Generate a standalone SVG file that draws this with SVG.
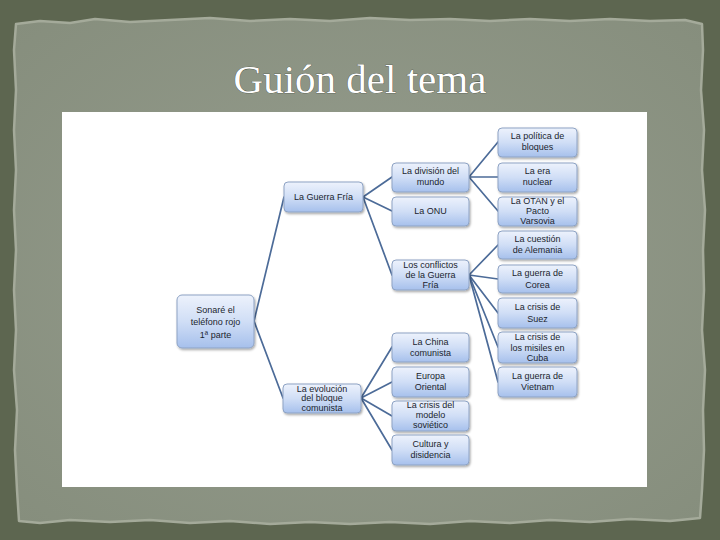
<svg xmlns="http://www.w3.org/2000/svg" width="720" height="540" viewBox="0 0 720 540">
<defs>
<linearGradient id="nodeFill" x1="0" y1="0" x2="0" y2="1">
<stop offset="0" stop-color="#edf2fc"/>
<stop offset="0.5" stop-color="#d0def6"/>
<stop offset="1" stop-color="#a6c0ec"/>
</linearGradient>
<radialGradient id="paper" cx="0.5" cy="0.5" r="0.7">
<stop offset="0" stop-color="#969d8e"/>
<stop offset="1" stop-color="#868e7d"/>
</radialGradient>
<filter id="shadow" x="-10%" y="-10%" width="130%" height="140%">
<feDropShadow dx="1" dy="1.5" stdDeviation="1" flood-color="#000" flood-opacity="0.35"/>
</filter>
<style>
.node rect{fill:url(#nodeFill);stroke:#8ea3c4;stroke-width:1;filter:url(#shadow)}
.node text{font-family:"Liberation Sans",Arial,sans-serif;font-size:9px;fill:#1b1f2e;text-anchor:middle}
#connectors line{stroke:#4c6b98;stroke-width:1.7;stroke-linecap:round}
.title{font-family:"Liberation Serif","DejaVu Serif",serif;font-size:41px;fill:#ffffff;stroke:#3a4035;stroke-width:0.6;paint-order:stroke;text-anchor:middle}
</style>
</defs>
<rect x="0" y="0" width="720" height="540" fill="#5d6650"/>
<path d="M16,24 L40,21 L70,23 L95,19 L130,22 L170,20 L210,18 L250,21 L290,19 L330,21 L370,18 L410,20 L450,19 L490,21 L530,19 L570,21 L610,19 L650,21 L685,20 L702,24 L703,50 L701,90 L704,130 L702,170 L705,210 L703,250 L704,290 L702,330 L705,370 L703,410 L704,450 L702,490 L700,518 L670,521 L630,519 L590,522 L550,520 L510,523 L470,521 L430,524 L390,522 L350,524 L310,522 L270,524 L230,521 L190,523 L150,520 L110,522 L70,520 L40,523 L19,521 L17,490 L15,450 L17,410 L14,370 L16,330 L14,290 L16,250 L14,210 L16,170 L14,130 L16,90 L14,50 Z" fill="url(#paper)" stroke="#a4aa9a" stroke-width="2.5" stroke-linejoin="round"/>
<text class="title" x="360" y="93">Guión del tema</text>
<rect x="62" y="112" width="585" height="375" fill="#ffffff"/>
<g id="connectors">
<line x1="254" y1="321" x2="284" y2="197"/>
<line x1="254" y1="321" x2="283" y2="398"/>
<line x1="363" y1="197" x2="392" y2="177"/>
<line x1="363" y1="197" x2="392" y2="211"/>
<line x1="363" y1="197" x2="392" y2="275"/>
<line x1="469" y1="177" x2="498" y2="142"/>
<line x1="469" y1="177" x2="498" y2="177"/>
<line x1="469" y1="177" x2="498" y2="211"/>
<line x1="469" y1="275" x2="498" y2="245"/>
<line x1="469" y1="275" x2="498" y2="279"/>
<line x1="469" y1="275" x2="498" y2="313"/>
<line x1="469" y1="275" x2="498" y2="347"/>
<line x1="469" y1="275" x2="498" y2="382"/>
<line x1="361" y1="398" x2="392" y2="347"/>
<line x1="361" y1="398" x2="392" y2="382"/>
<line x1="361" y1="398" x2="392" y2="416"/>
<line x1="361" y1="398" x2="392" y2="450"/>
</g>
<g id="root" class="node"><rect x="177" y="295" width="77" height="53" rx="5"/><text x="215.5" y="313">Sonaré el</text><text x="215.5" y="325">teléfono rojo</text><text x="215.5" y="338">1ª parte</text></g>
<g id="guerra-fria" class="node"><rect x="284" y="182" width="79" height="30" rx="4"/><text x="323.5" y="200">La Guerra Fría</text></g>
<g id="evolucion" class="node"><rect x="283" y="384" width="78" height="29" rx="4"/><text x="322" y="392">La evolución</text><text x="322" y="401">del bloque</text><text x="322" y="411">comunista</text></g>
<g id="division" class="node"><rect x="392" y="163" width="77" height="29" rx="4"/><text x="430.5" y="174">La división del</text><text x="430.5" y="185">mundo</text></g>
<g id="onu" class="node"><rect x="392" y="197" width="77" height="29" rx="4"/><text x="430.5" y="214">La ONU</text></g>
<g id="conflictos" class="node"><rect x="392" y="260" width="77" height="30" rx="4"/><text x="430.5" y="268">Los conflictos</text><text x="430.5" y="278">de la Guerra</text><text x="430.5" y="288">Fría</text></g>
<g id="china" class="node"><rect x="392" y="333" width="77" height="29" rx="4"/><text x="430.5" y="345">La China</text><text x="430.5" y="356">comunista</text></g>
<g id="europa" class="node"><rect x="392" y="367" width="77" height="30" rx="4"/><text x="430.5" y="379">Europa</text><text x="430.5" y="390">Oriental</text></g>
<g id="crisis-modelo" class="node"><rect x="392" y="401" width="77" height="30" rx="4"/><text x="430.5" y="408">La crisis del</text><text x="430.5" y="418">modelo</text><text x="430.5" y="428">soviético</text></g>
<g id="cultura" class="node"><rect x="392" y="435" width="77" height="30" rx="4"/><text x="430.5" y="447">Cultura y</text><text x="430.5" y="458">disidencia</text></g>
<g id="politica" class="node"><rect x="498" y="128" width="79" height="29" rx="4"/><text x="537.5" y="139">La política de</text><text x="537.5" y="150">bloques</text></g>
<g id="nuclear" class="node"><rect x="498" y="163" width="79" height="29" rx="4"/><text x="537.5" y="174">La era</text><text x="537.5" y="185">nuclear</text></g>
<g id="otan" class="node"><rect x="498" y="197" width="79" height="29" rx="4"/><text x="537.5" y="204">La OTAN y el</text><text x="537.5" y="214">Pacto</text><text x="537.5" y="224">Varsovia</text></g>
<g id="alemania" class="node"><rect x="498" y="231" width="79" height="28" rx="4"/><text x="537.5" y="242">La cuestión</text><text x="537.5" y="253">de Alemania</text></g>
<g id="corea" class="node"><rect x="498" y="265" width="79" height="28" rx="4"/><text x="537.5" y="276">La guerra de</text><text x="537.5" y="288">Corea</text></g>
<g id="suez" class="node"><rect x="498" y="298" width="79" height="30" rx="4"/><text x="537.5" y="310">La crisis de</text><text x="537.5" y="322">Suez</text></g>
<g id="cuba" class="node"><rect x="498" y="332" width="79" height="31" rx="4"/><text x="537.5" y="340">La crisis de</text><text x="537.5" y="351">los misiles en</text><text x="537.5" y="361">Cuba</text></g>
<g id="vietnam" class="node"><rect x="498" y="367" width="79" height="30" rx="4"/><text x="537.5" y="379">La guerra de</text><text x="537.5" y="390">Vietnam</text></g>
</svg>
